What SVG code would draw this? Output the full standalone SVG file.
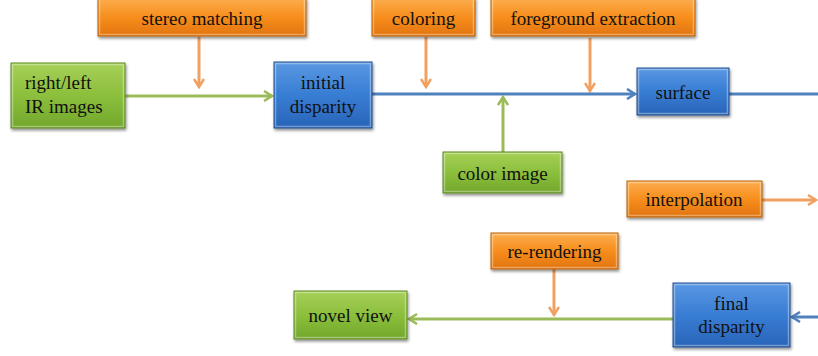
<svg xmlns="http://www.w3.org/2000/svg" width="818" height="356" viewBox="0 0 818 356">
  <defs>
    <linearGradient id="gOrange" x1="0" y1="0" x2="0" y2="1">
      <stop offset="0" stop-color="#FCAE50"/>
      <stop offset="0.5" stop-color="#F78E1C"/>
      <stop offset="1" stop-color="#E2740E"/>
    </linearGradient>
    <linearGradient id="gGreen" x1="0" y1="0" x2="0" y2="1">
      <stop offset="0" stop-color="#A6D058"/>
      <stop offset="0.5" stop-color="#8CBF3C"/>
      <stop offset="1" stop-color="#72A72C"/>
    </linearGradient>
    <linearGradient id="gBlue" x1="0" y1="0" x2="0" y2="1">
      <stop offset="0" stop-color="#5A98E2"/>
      <stop offset="0.5" stop-color="#387DD4"/>
      <stop offset="1" stop-color="#2864B8"/>
    </linearGradient>
    <filter id="shadow" x="-10%" y="-10%" width="130%" height="140%">
      <feGaussianBlur in="SourceAlpha" stdDeviation="1.5"/>
      <feOffset dx="1" dy="2" result="b"/>
      <feComponentTransfer><feFuncA type="linear" slope="0.45"/></feComponentTransfer>
      <feMerge><feMergeNode/><feMergeNode in="SourceGraphic"/></feMerge>
    </filter>
    <marker id="arrOrange" viewBox="0 0 12 12" refX="10" refY="6" markerWidth="12" markerHeight="12" markerUnits="userSpaceOnUse" orient="auto">
      <path d="M2,1 L10,6 L2,11" fill="none" stroke="#F0A060" stroke-width="2.5"/>
    </marker>
    <marker id="arrGreen" viewBox="0 0 12 12" refX="10" refY="6" markerWidth="12" markerHeight="12" markerUnits="userSpaceOnUse" orient="auto">
      <path d="M2,1 L10,6 L2,11" fill="none" stroke="#9BBB59" stroke-width="2.5"/>
    </marker>
    <marker id="arrBlue" viewBox="0 0 12 12" refX="10" refY="6" markerWidth="12" markerHeight="12" markerUnits="userSpaceOnUse" orient="auto">
      <path d="M2,1 L10,6 L2,11" fill="none" stroke="#4F81BD" stroke-width="2.5"/>
    </marker>
  </defs>
  <style>
    .box { filter: url(#shadow); stroke-width: 1; }
    .orange { fill: url(#gOrange); stroke: #B8620C; }
    .green { fill: url(#gGreen); stroke: #5E8A24; }
    .blue { fill: url(#gBlue); stroke: #1F4F90; }
    .hl { fill: none; stroke: #ffffff; stroke-opacity: 0.35; stroke-width: 1.5; }
    text { font-family: "Liberation Serif", "Times New Roman", "DejaVu Serif", serif; font-size: 19px; fill: #111111; }
    .c { text-anchor: middle; }
    .lo { stroke: #F0A060; stroke-width: 3; fill: none; }
    .lg { stroke: #9BBB59; stroke-width: 3; fill: none; }
    .lb { stroke: #4F81BD; stroke-width: 3; fill: none; }
  </style>

  <g id="connectors">
    <line class="lo" x1="199" y1="37" x2="199" y2="87" marker-end="url(#arrOrange)"/>
    <line class="lo" x1="426" y1="37" x2="426" y2="87" marker-end="url(#arrOrange)"/>
    <line class="lo" x1="590" y1="38" x2="590" y2="91" marker-end="url(#arrOrange)"/>
    <line class="lg" x1="125" y1="96" x2="272" y2="96" marker-end="url(#arrGreen)"/>
    <line class="lb" x1="372" y1="94" x2="635" y2="94" marker-end="url(#arrBlue)"/>
    <line class="lb" x1="729" y1="94" x2="818" y2="94"/>
    <line class="lg" x1="503" y1="152" x2="503" y2="97" marker-end="url(#arrGreen)"/>
    <line class="lo" x1="762" y1="200" x2="816" y2="200" marker-end="url(#arrOrange)"/>
    <line class="lo" x1="554" y1="269" x2="554" y2="315" marker-end="url(#arrOrange)"/>
    <line class="lb" x1="818" y1="317" x2="792" y2="317" marker-end="url(#arrBlue)"/>
    <line class="lg" x1="673" y1="319" x2="409" y2="319" marker-end="url(#arrGreen)"/>
  </g>

  <g id="stereo-matching">
    <rect class="box orange" x="98" y="-2" width="208" height="38"/>
    <rect class="hl" x="99.5" y="-1" width="205" height="35.5"/>
    <text class="c" x="202" y="25">stereo matching</text>
  </g>
  <g id="coloring">
    <rect class="box orange" x="372" y="-2" width="103" height="38"/>
    <rect class="hl" x="373.5" y="-1" width="100" height="35.5"/>
    <text class="c" x="423.5" y="25">coloring</text>
  </g>
  <g id="foreground-extraction">
    <rect class="box orange" x="491" y="-2" width="204" height="38"/>
    <rect class="hl" x="492.5" y="-1" width="201" height="35.5"/>
    <text class="c" x="593" y="25">foreground extraction</text>
  </g>
  <g id="ir-images">
    <rect class="box green" x="11" y="63" width="114" height="65"/>
    <rect class="hl" x="12.5" y="64.5" width="111" height="62"/>
    <text x="25" y="89">right/left</text>
    <text x="25" y="113">IR images</text>
  </g>
  <g id="initial-disparity">
    <rect class="box blue" x="274" y="62" width="98" height="66"/>
    <rect class="hl" x="275.5" y="63.5" width="95" height="63"/>
    <text class="c" x="323" y="89">initial</text>
    <text class="c" x="323" y="113">disparity</text>
  </g>
  <g id="surface">
    <rect class="box blue" x="637" y="68" width="92" height="47"/>
    <rect class="hl" x="638.5" y="69.5" width="89" height="44"/>
    <text class="c" x="683" y="99">surface</text>
  </g>
  <g id="color-image">
    <rect class="box green" x="443" y="152" width="119" height="41"/>
    <rect class="hl" x="444.5" y="153.5" width="116" height="38"/>
    <text class="c" x="502.5" y="180">color image</text>
  </g>
  <g id="interpolation">
    <rect class="box orange" x="627" y="181" width="135" height="36"/>
    <rect class="hl" x="628.5" y="182.5" width="132" height="33"/>
    <text class="c" x="694" y="206">interpolation</text>
  </g>
  <g id="re-rendering">
    <rect class="box orange" x="491" y="233" width="127" height="36"/>
    <rect class="hl" x="492.5" y="234.5" width="124" height="33"/>
    <text class="c" x="554.5" y="258">re-rendering</text>
  </g>
  <g id="final-disparity">
    <rect class="box blue" x="673" y="283" width="117" height="64"/>
    <rect class="hl" x="674.5" y="284.5" width="114" height="61"/>
    <text class="c" x="731.5" y="310">final</text>
    <text class="c" x="731.5" y="333">disparity</text>
  </g>
  <g id="novel-view">
    <rect class="box green" x="294" y="291" width="113" height="48"/>
    <rect class="hl" x="295.5" y="292.5" width="110" height="45"/>
    <text class="c" x="350.5" y="322">novel view</text>
  </g>
</svg>
